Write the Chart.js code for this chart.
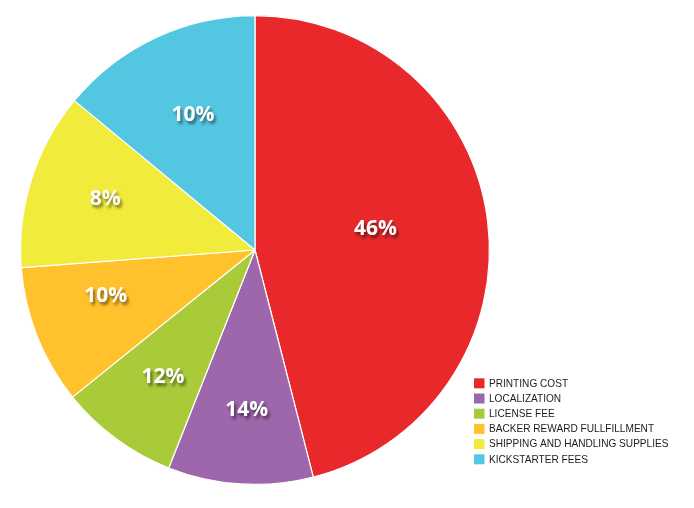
<!DOCTYPE html>
<html>
<head>
<meta charset="utf-8">
<script src="https://cdn.jsdelivr.net/npm/chart.js@4.4.0/dist/chart.umd.min.js"></script>
<style>
  html, body { margin: 0; padding: 0; background: #ffffff; }
  #wrap { position: relative; width: 694px; height: 508px; }
</style>
</head>
<body>
<div id="wrap"><canvas id="pieCostos"></canvas></div>
<script>
//* Categorías
const categorias = [
  "PRINTING COST",
  "LOCALIZATION",
  "LICENSE FEE",
  "BACKER REWARD FULLFILLMENT",
  "SHIPPING AND HANDLING SUPPLIES",
  "KICKSTARTER FEES",
];
//* Tamaño de cada rebanada
const valores = [46, 10, 8.2, 9.6, 12.2, 14];
//* Texto de las etiquetas tal como aparece
const etiquetas = ["46%", "14%", "12%", "10%", "8%", "10%"];
//* Colores
const colores = ["#E9282C", "#9E66AB", "#A9CB3A", "#FFC22C", "#F1EB3C", "#53C7E1"];

//* Ajuste fino de cada etiqueta: fracción del radio y giro en grados
const radioEtiqueta = [0.523, 0.676, 0.663, 0.665, 0.678, 0.64];
const giroEtiqueta = [-3.4, -0.6, 0, 4.9, 1.8, 0.8];

//* Plugin: etiquetas de porcentaje dentro de cada rebanada
const etiquetasPie = {
  id: "etiquetasPie",
  afterDatasetsDraw(chart) {
    const ctx = chart.ctx;
    const meta = chart.getDatasetMeta(0);
    ctx.save();
    ctx.font = "bold 21px 'Open Sans', sans-serif";
    ctx.textAlign = "center";
    ctx.textBaseline = "alphabetic";
    ctx.fillStyle = "#ffffff";
    ctx.shadowColor = "rgba(0,0,0,0.5)";
    ctx.shadowBlur = 3;
    ctx.shadowOffsetX = 2;
    ctx.shadowOffsetY = 3;
    meta.data.forEach((arc, i) => {
      const p = arc.getProps(["x", "y", "startAngle", "endAngle", "outerRadius"], true);
      const mid = (p.startAngle + p.endAngle) / 2 + giroEtiqueta[i] * Math.PI / 180;
      const x = p.x + Math.cos(mid) * p.outerRadius * radioEtiqueta[i];
      const y = p.y + Math.sin(mid) * p.outerRadius * radioEtiqueta[i];
      ctx.fillText(etiquetas[i], x, y + 7.5);
    });
    ctx.restore();
  },
};

//* Plugin: leyenda abajo a la derecha
const leyendaPie = {
  id: "leyendaPie",
  afterDraw(chart) {
    const ctx = chart.ctx;
    ctx.save();
    ctx.font = "10.1px 'Liberation Sans', Arial, sans-serif";
    ctx.textBaseline = "middle";
    categorias.forEach((cat, i) => {
      const y = 383.3 + i * 15.2;
      ctx.fillStyle = colores[i];
      ctx.fillRect(474, y - 5, 10.5, 10);
      ctx.fillStyle = "#1c1c1c";
      ctx.fillText(cat, 489, y + 0.5);
    });
    ctx.restore();
  },
};

const ctx = document.getElementById("pieCostos").getContext("2d");
const pieCostos = new Chart(ctx, {
  type: "pie",
  data: {
    labels: categorias,
    datasets: [
      {
        data: valores,
        backgroundColor: colores,
        borderColor: "#ffffff",
        borderWidth: 1.2,
      },
    ],
  },
  options: {
    responsive: true,
    maintainAspectRatio: false,
    animation: false,
    layout: {
      padding: { left: 20, top: 15, right: 204, bottom: 23 },
    },
    plugins: {
      legend: { display: false },
      tooltip: { enabled: false },
    },
  },
  plugins: [etiquetasPie, leyendaPie],
});
</script>
</body>
</html>
